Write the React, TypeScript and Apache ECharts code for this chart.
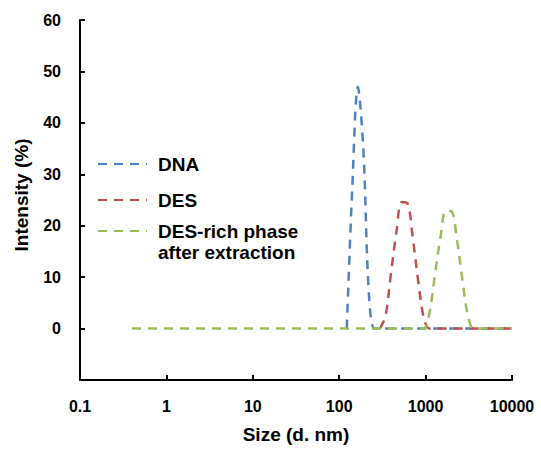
import React, { useEffect, useRef } from 'react';
import * as echarts from 'echarts';

// Size bins (d. nm) of the size distribution
const sizes = [
  0.4, 0.4632, 0.5365, 0.6213, 0.7195, 0.8332, 0.9649, 1.117, 1.294, 1.499,
  1.736, 2.01, 2.328, 2.696, 3.122, 3.615, 4.187, 4.849, 5.615, 6.503,
  7.531, 8.721, 10.1, 11.7, 13.54, 15.69, 18.17, 21.04, 24.36, 28.21,
  32.67, 37.84, 43.82, 50.75, 58.77, 68.06, 78.82, 91.28, 105.7, 122.4,
  141.8, 164.2, 190.1, 220.2, 255.0, 295.3, 342.0, 396.1, 458.7, 531.2,
  615.1, 712.4, 825.0, 955.4, 1106, 1281, 1484, 1718, 1990, 2305,
  2669, 3091, 3580, 4145, 4801, 5560, 6439, 7456, 8635, 10000,
];

// Intensity (%) per bin; null = not plotted
const dnaIntensity: (number | null)[] = [
  null, null, null, null, null, null, null, null, null, null,
  null, null, null, null, null, null, null, null, null, null,
  null, null, null, null, null, null, null, null, null, null,
  null, null, null, null, null, null, null, null, null, 0,
  27.5, 47, 35, 7, 0, 0, 0, 0, 0, 0,
  0, 0, 0, 0, 0, 0, 0, 0, 0, 0,
  0, 0, 0, 0, 0, 0, 0, 0, 0, 0,
];

const desIntensity: (number | null)[] = [
  null, null, null, null, null, null, null, null, null, null,
  null, null, null, null, null, null, null, null, null, null,
  null, null, null, null, null, null, null, null, null, null,
  null, null, null, null, null, null, null, null, null, null,
  null, null, null, null, null, 0, 2.3, 10.5, 18.7, 24.6,
  24.4, 17.5, 9, 2, 0, 0, 0, 0, 0, 0,
  0, 0, 0, 0, 0, 0, 0, 0, 0, 0,
];

const richIntensity: (number | null)[] = [
  0, 0, 0, 0, 0, 0, 0, 0, 0, 0,
  0, 0, 0, 0, 0, 0, 0, 0, 0, 0,
  0, 0, 0, 0, 0, 0, 0, 0, 0, 0,
  0, 0, 0, 0, 0, 0, 0, 0, 0, 0,
  0, 0, 0, 0, 0, 0, 0, 0, 0, 0,
  0, 0, 0, 0, 3, 10.4, 17.7, 22.9, 22.8, 17.3,
  9.4, 2.5, 0, 0, 0, 0, 0, 0, 0, 0,
];

const seriesNames = ['DNA', 'DES', 'DES-rich phase\nafter extraction'];
const seriesColors = ['#4F81BD', '#C0504D', '#9BBB59'];
const xTickLabels = ['0.1', '1', '10', '100', '1000', '10000'];
const yMin = -10;
const yMax = 60;
const yStep = 10;

const FONT = "'Liberation Sans', Arial, sans-serif";

function toPoints(values: (number | null)[]) {
  return sizes
    .map((s, i) => [s, values[i]] as [number, number | null])
    .filter((p) => p[1] !== null);
}

export default function App() {
  const ref = useRef<HTMLDivElement>(null);

  useEffect(() => {
    if (!ref.current) return;
    const chart = echarts.init(ref.current, undefined, { renderer: 'svg' });
    const valueSets = [dnaIntensity, desIntensity, richIntensity];
    const legendText = {
      fontFamily: FONT,
      fontSize: 19,
      fontWeight: 'bold' as const,
      color: '#000',
    };
    chart.setOption({
      animation: false,
      grid: { left: 80, right: 29, top: 20, bottom: 61, containLabel: false },
      xAxis: {
        type: 'log',
        logBase: 10,
        min: 0.1,
        max: 10000,
        name: 'Size (d. nm)',
        nameLocation: 'middle',
        nameGap: 45,
        nameTextStyle: { fontFamily: FONT, fontSize: 19, fontWeight: 'bold', color: '#000' },
        axisLine: { onZero: false, lineStyle: { color: '#000', width: 2 } },
        axisTick: { inside: true, length: 5, lineStyle: { color: '#000', width: 2 } },
        axisLabel: {
          margin: 18,
          fontFamily: FONT,
          fontSize: 16,
          fontWeight: 'bold',
          color: '#000',
          formatter: (_v: number, i: number) => xTickLabels[i] ?? '',
        },
        splitLine: { show: false },
        minorTick: { show: false },
      },
      yAxis: {
        type: 'value',
        min: yMin,
        max: yMax,
        interval: yStep,
        name: 'Intensity (%)',
        nameLocation: 'middle',
        nameGap: 49,
        nameTextStyle: {
          fontFamily: FONT,
          fontSize: 19,
          fontWeight: 'bold',
          color: '#000',
          padding: [0, 0, 0, 10],
        },
        axisLine: { show: true, lineStyle: { color: '#000', width: 2 } },
        axisTick: { show: true, inside: true, length: 5, lineStyle: { color: '#000', width: 2 } },
        axisLabel: {
          margin: 19,
          fontFamily: FONT,
          fontSize: 16,
          fontWeight: 'bold',
          color: '#000',
          formatter: (v: number) => (v < 0 ? '' : String(v)),
        },
        splitLine: { show: false },
      },
      legend: [
        {
          data: [seriesNames[0], seriesNames[1]],
          orient: 'vertical',
          left: 97,
          top: 154,
          padding: 0,
          itemWidth: 49,
          itemHeight: 14,
          itemGap: 16,
          selectedMode: false,
          itemStyle: { opacity: 0 },
          textStyle: { ...legendText, lineHeight: 20, padding: [0, 0, 0, 6] },
        },
        {
          data: [seriesNames[2]],
          orient: 'vertical',
          left: 97,
          top: 199.5,
          padding: 0,
          itemWidth: 49,
          itemHeight: 14,
          selectedMode: false,
          itemStyle: { opacity: 0 },
          // a leading empty line keeps the icon level with the first text line
          formatter: (name: string) => '\n' + name,
          textStyle: { ...legendText, lineHeight: 21, padding: [0, 0, 0, 6] },
        },
      ],
      series: seriesNames.map((name, k) => ({
        name,
        type: 'line',
        data: toPoints(valueSets[k]),
        symbol: 'none',
        showSymbol: false,
        smooth: 0.35,
        color: seriesColors[k],
        lineStyle: { color: seriesColors[k], width: 2.5, type: [9, 7] },
      })),
    });
    return () => chart.dispose();
  }, []);

  return (
    <div
      ref={ref}
      style={{ position: 'fixed', left: 0, top: 0, width: 541, height: 449, background: '#fff' }}
    />
  );
}
